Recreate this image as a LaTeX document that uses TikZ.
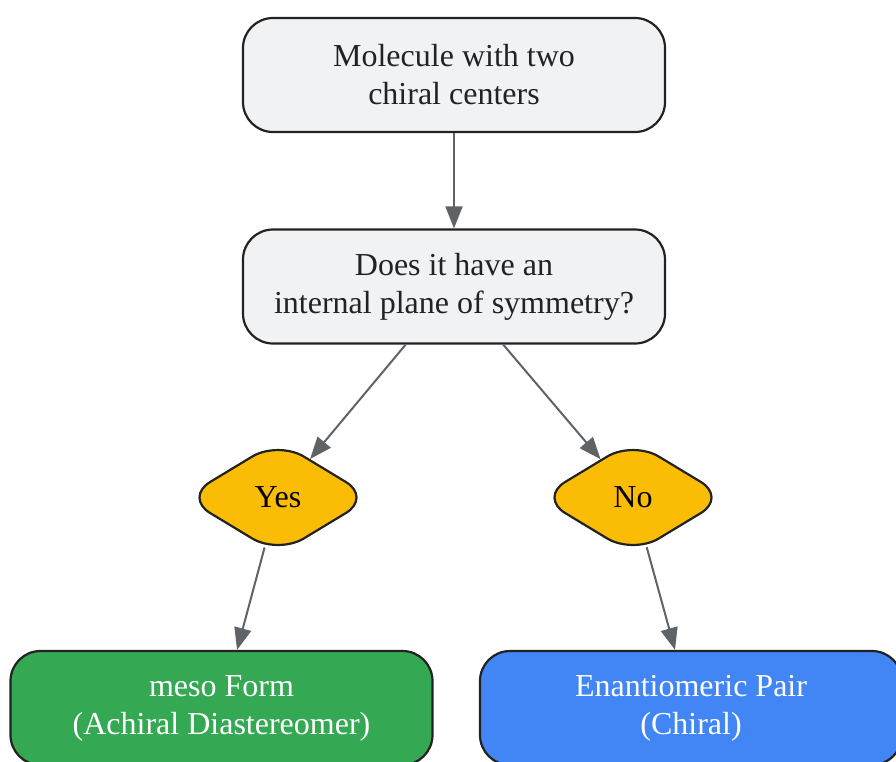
\documentclass[tikz,border=0pt]{standalone}
\usepackage{fontspec}
\setmainfont{Liberation Serif}
\usetikzlibrary{shapes.geometric,arrows.meta}
\definecolor{boxgray}{HTML}{F1F2F4}
\definecolor{edgegray}{HTML}{5F6368}
\definecolor{darkline}{HTML}{222222}
\definecolor{gyellow}{HTML}{FBBC05}
\definecolor{ggreen}{HTML}{34A853}
\definecolor{gblue}{HTML}{4285F4}
\tikzset{
  box/.style={draw=darkline, line width=2.2pt, rounded corners=30pt, minimum width=422pt, minimum height=114pt, align=center, inner sep=0pt, font=\fontsize{32}{38}\selectfont},
  choice/.style={shape=diamond, draw=darkline, fill=gyellow, line width=2.2pt, rounded corners=30pt, minimum width=188pt, minimum height=114pt, inner sep=0pt, font=\fontsize{32}{38}\selectfont, text=black},
  flow/.style={draw=edgegray, line width=2pt, -{Triangle[length=22pt,width=17pt]}}
}
\begin{document}
\begin{tikzpicture}[x=1pt,y=-1pt]
\useasboundingbox (0,0) rectangle (896,761);
\node[box, fill=boxgray, text=darkline] (mol) at (454,75) {Molecule with two\\chiral centers};
\node[box, fill=boxgray, text=darkline] (q) at (454,286.5) {Does it have an\\internal plane of symmetry?};
\node[choice] (yes) at (278,497.5) {Yes};
\node[choice] (no) at (633,497.5) {No};
\node[box, fill=ggreen, text=white] (meso) at (221.5,708) {meso Form\\(Achiral Diastereomer)};
\node[box, fill=gblue, text=white] (enan) at (691,708) {Enantiomeric Pair\\(Chiral)};
\draw[flow] (mol) -- (q);
\draw[flow] (q) -- (yes);
\draw[flow] (q) -- (no);
\draw[flow] (yes) -- (meso);
\draw[flow] (no) -- (enan);
\end{tikzpicture}
\end{document}
